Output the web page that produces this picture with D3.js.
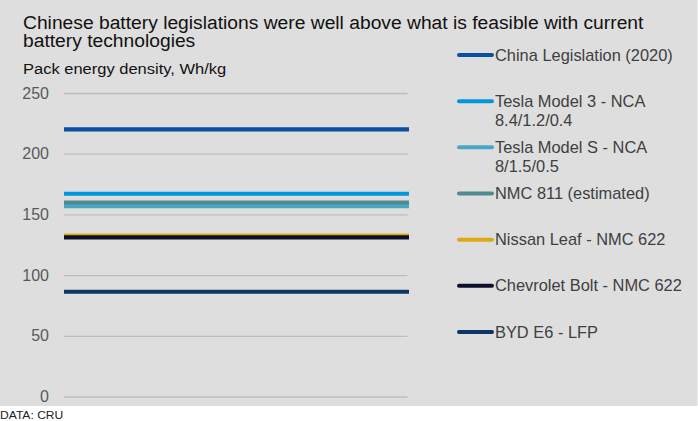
<!DOCTYPE html>
<html>
<head>
<meta charset="utf-8">
<script src="https://cdn.jsdelivr.net/npm/d3@7"></script>
<style>
    body { margin: 0; background: #fff; }
    svg { display: block; font-family: "Liberation Sans", Arial, sans-serif; }
</style>
</head>
<body>
<svg id="chart" width="698" height="421"></svg>
<script>
// Series, in legend order (later ones draw on top)
const seriesNames = [
    "China Legislation (2020)",
    "Tesla Model 3 - NCA|8.4/1.2/0.4",
    "Tesla Model S - NCA|8/1.5/0.5",
    "NMC 811 (estimated)",
    "Nissan Leaf - NMC 622",
    "Chevrolet Bolt - NMC 622",
    "BYD E6 - LFP"
];
const seriesValues = [220, 167, 156.7, 159.7, 132.5, 131, 86.3];
const seriesColors = ["#0b4fa1", "#0096dc", "#48a7c8", "#4e8a8f", "#dea912", "#0e0f2c", "#0c3668"];

// two category points so each value spans the whole plot
const categories = [0, 1];
const yTicks = [0, 50, 100, 150, 200, 250];

const titleLines = [
    "Chinese battery legislations were well above what is feasible with current",
    "battery technologies"
];
const subtitle = "Pack energy density, Wh/kg";
const source = "DATA: CRU";

const plot = {
    left: 64,
    right: 409,
    top: 93,
    bottom: 396.5
};

const svg = d3.select("#chart");

// Grey panel behind everything except the source line
svg.append("rect")
.attr("x", 0)
.attr("y", 0)
.attr("width", 697.5)
.attr("height", 406)
.attr("fill", "#dedede");

const x = d3.scaleLinear()
.domain(d3.extent(categories))
.range([plot.left, plot.right]);

const y = d3.scaleLinear()
.domain([0, 250])
.range([plot.bottom, plot.top]);

// the reference type is a touch wider than Liberation Sans at the same height
const stretch = (x0, s) => `translate(${x0},0) scale(${s},1)`;

/*
|--------------------------------------------------------------------------
| Title and subtitle
|--------------------------------------------------------------------------
*/

svg.append("g")
.attr("transform", stretch(23, 1.07))
.append("text")
.attr("y", 29.3)
.attr("fill", "#111")
.style("font-size", "18px")
.selectAll("tspan")
.data(titleLines)
.join("tspan")
.attr("x", 0)
.attr("dy", (d, i) => i === 0 ? 0 : 17.6)
.text(d => d);

svg.append("g")
.attr("transform", stretch(23, 1.065))
.append("text")
.attr("y", 74)
.attr("fill", "#111")
.style("font-size", "15.5px")
.text(subtitle);

/*
|--------------------------------------------------------------------------
| Y axis: gridlines and labels
|--------------------------------------------------------------------------
*/

const yAxis = d3.axisLeft(y)
.tickValues(yTicks)
.tickSize(-(plot.right - 1.5 - plot.left))
.tickPadding(15);

const axisG = svg.append("g")
.attr("transform", `translate(${plot.left},0)`)
.call(yAxis);

axisG.select(".domain").remove();
axisG.selectAll(".tick line")
.attr("stroke", "#bdbdbd")
.attr("stroke-width", 1.3);
axisG.selectAll(".tick text")
.attr("fill", "#595959")
.style("font-size", "16px")
.style("font-family", "Liberation Sans, Arial, sans-serif");

/*
|--------------------------------------------------------------------------
| Series lines
|--------------------------------------------------------------------------
*/

const line = d3.line()
.x(d => x(d.c))
.y(d => y(d.v));

svg.append("g")
.selectAll("path")
.data(seriesValues)
.join("path")
.attr("d", v => line(categories.map(c => ({ c: c, v: v }))))
.attr("fill", "none")
.attr("stroke", (d, i) => seriesColors[i])
.attr("stroke-width", 4.2);

/*
|--------------------------------------------------------------------------
| Legend
|--------------------------------------------------------------------------
*/

const legendY = d3.scalePoint()
.domain(d3.range(seriesNames.length))
.range([55, 332]);

const item = svg.append("g")
.selectAll("g")
.data(seriesNames)
.join("g")
.attr("transform", (d, i) => `translate(0,${legendY(i)})`);

item.append("line")
.attr("x1", 459)
.attr("x2", 492)
.attr("stroke", (d, i) => seriesColors[i])
.attr("stroke-width", 4)
.attr("stroke-linecap", "round");

item.append("g")
.attr("transform", stretch(495, 1.045))
.append("text")
.attr("y", 5.6)
.attr("fill", "#404040")
.style("font-size", "15.7px")
.selectAll("tspan")
.data(d => d.split("|"))
.join("tspan")
.attr("x", 0)
.attr("dy", (d, i) => i === 0 ? 0 : 19.3)
.text(d => d);

svg.append("g")
.attr("transform", stretch(0, 1.1))
.append("text")
.attr("y", 419.5)
.attr("fill", "#222")
.style("font-size", "11px")
.text(source);
</script>
</body>
</html>
